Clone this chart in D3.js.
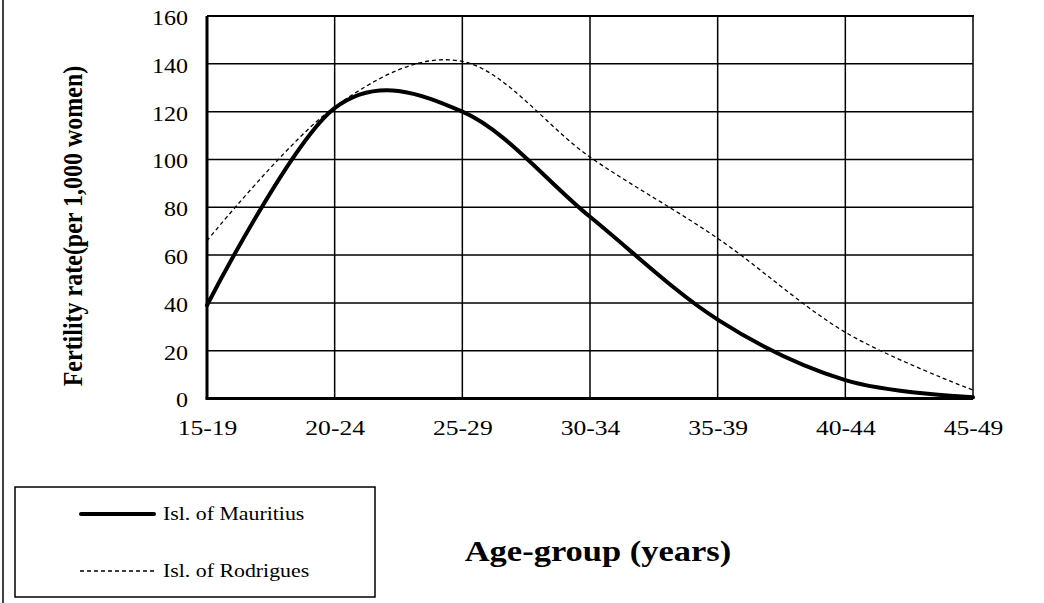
<!DOCTYPE html>
<html><head><meta charset="utf-8">
<script src="https://cdn.jsdelivr.net/npm/d3@7"></script>
<style>body{margin:0;background:#fff}svg{display:block}text{font-family:"Liberation Serif","Times New Roman",serif;fill:#000}</style>
</head><body><svg id="c" width="1044" height="603"></svg>
<script>
const categories = ["15-19","20-24","25-29","30-34","35-39","40-44","45-49"];
const mauritius = [39, 121.5, 120, 76, 33, 7.7, 0.5];
const rodrigues = [66, 122, 141, 101, 67, 27.7, 3.5];
const yTicks = [0,20,40,60,80,100,120,140,160];
const seriesNames = ["Isl. of Mauritius","Isl. of Rodrigues"];

const svg = d3.select("#c");
const L=207, R=973, T=16, B=398.5;
const SX = 1.2; // horizontal stretch of the glyphs in the reference
const x = d3.scalePoint().domain(categories).range([L,R]);
const y = d3.scaleLinear().domain([0,160]).range([B,T]);

// outer frame left edge
svg.append("line").attr("x1",3).attr("x2",3).attr("y1",0).attr("y2",603).attr("stroke","#000").attr("stroke-width",1.5);

// gridlines
svg.append("g").selectAll("line").data(yTicks.slice(1)).join("line")
  .attr("x1",L).attr("x2",R).attr("y1",d=>y(d)).attr("y2",d=>y(d))
  .attr("stroke","#000").attr("stroke-width",1.5);
svg.append("g").selectAll("line").data(categories.slice(1)).join("line")
  .attr("x1",d=>x(d)).attr("x2",d=>x(d)).attr("y1",T).attr("y2",B)
  .attr("stroke","#000").attr("stroke-width",1.5);
// axes lines
svg.append("line").attr("x1",L).attr("x2",L).attr("y1",T).attr("y2",B).attr("stroke","#000").attr("stroke-width",3);
svg.append("line").attr("x1",L-1.5).attr("x2",R).attr("y1",B).attr("y2",B).attr("stroke","#000").attr("stroke-width",3);
svg.append("line").attr("x1",L).attr("x2",R+1).attr("y1",T).attr("y2",T).attr("stroke","#000").attr("stroke-width",2);

// y tick labels
const ya = d3.axisLeft(y).tickValues(yTicks).tickSize(0);
const gy = svg.append("g").attr("transform",`translate(${L},0)`).call(ya);
gy.select(".domain").remove();
gy.selectAll("text").attr("font-size",20).attr("font-family","Liberation Serif, serif")
  .attr("x",0).attr("dy","0.32em").attr("transform",`translate(-19,2) scale(${SX},1)`);
// x tick labels
const xa = d3.axisBottom(x).tickSize(0);
const gx = svg.append("g").attr("transform",`translate(0,${B})`).call(xa);
gx.select(".domain").remove();
gx.selectAll("text").attr("font-size",20).attr("font-family","Liberation Serif, serif")
  .attr("y",0).attr("dy",0).attr("transform",`translate(0,36) scale(1.28,1)`);

// lines
const line = d3.line().x((d,i)=>x(categories[i])).y(d=>y(d)).curve(d3.curveCardinal.tension(0));
svg.append("path").attr("d",line(rodrigues)).attr("fill","none").attr("stroke","#000").attr("stroke-width",1.3).attr("stroke-dasharray","4,3");
svg.append("path").attr("d",line(mauritius)).attr("fill","none").attr("stroke","#000").attr("stroke-width",4).attr("stroke-linecap","round");

// axis titles
svg.append("text").attr("transform",`translate(82,226) rotate(-90) scale(1,1.12)`).attr("text-anchor","middle")
  .attr("font-size",24).attr("font-weight","bold").text("Fertility rate(per 1,000 women)");
svg.append("text").attr("transform",`translate(598,561) scale(1.15,1)`).attr("text-anchor","middle")
  .attr("font-size",30).attr("font-weight","bold").text("Age-group (years)");

// legend
svg.append("rect").attr("x",15).attr("y",487).attr("width",360).attr("height",110).attr("fill","none").attr("stroke","#000").attr("stroke-width",1.5);
const lg = svg.append("g");
const ly = [514, 571];
lg.append("line").attr("x1",81).attr("x2",154).attr("y1",ly[0]).attr("y2",ly[0]).attr("stroke","#000").attr("stroke-width",4).attr("stroke-linecap","round");
lg.append("line").attr("x1",80).attr("x2",155).attr("y1",ly[1]).attr("y2",ly[1]).attr("stroke","#000").attr("stroke-width",1.3).attr("stroke-dasharray","4,3");
lg.selectAll("text").data(seriesNames).join("text")
  .attr("transform",(d,i)=>`translate(163,${ly[i]+6}) scale(1.15,1)`).attr("font-size",19).text(d=>d);
</script></body></html>
